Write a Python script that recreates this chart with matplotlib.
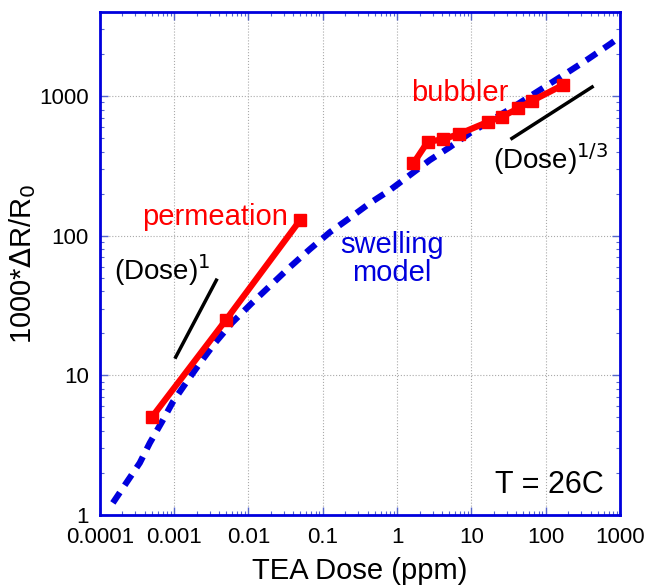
import numpy as np
import matplotlib
matplotlib.use("Agg")
from matplotlib import pyplot as plt
from matplotlib.ticker import LogLocator, FixedLocator, FixedFormatter, NullFormatter

plt.rcParams['font.family'] = ['Liberation Sans', 'DejaVu Sans']

# permeation data
perm_dose = [0.0005, 0.005, 0.05]
perm_resp = [5, 25, 130]

# bubbler data
bub_dose = [1.65, 2.58, 4.1, 6.8, 16.8, 25.5, 42.7, 64.6, 169]
bub_resp = [329, 470, 489, 534, 654, 710, 815, 920, 1197]

# swelling model curve
model_dose = [0.00015, 0.000231, 0.000345, 0.000471, 0.000683, 0.00096, 0.00144,
              0.00222, 0.00353, 0.00598, 0.0111, 0.0361, 0.067, 0.125, 0.218,
              0.43, 0.80, 1.49, 2.76, 5.14, 9.55, 33, 65, 199, 370, 731, 950]
model_resp = [1.22, 1.72, 2.36, 3.28, 4.63, 6.44, 8.81,
              12.2, 17.0, 23.7, 32.9, 59.6, 80, 106, 131,
              171, 212, 272, 348, 431, 543, 806, 1015, 1483, 1837, 2353, 2600]

# slope guide lines
slope1_dose = [0.00105, 0.0037]
slope1_resp = [13.5, 48]
slope3_dose = [35, 420]
slope3_resp = [497, 1160]

xticks = [0.0001, 0.001, 0.01, 0.1, 1, 10, 100, 1000]
xticklabels = ['0.0001', '0.001', '0.01', '0.1', '1', '10', '100', '1000']
yticks = [1, 10, 100, 1000]
yticklabels = ['1', '10', '100', '1000']

fig = plt.figure(figsize=(6.48, 5.87), dpi=100)
ax = fig.add_axes([0.154, 0.1227, 0.803, 0.857])

ax.set_xscale('log')
ax.set_yscale('log')
ax.set_xlim(0.0001, 1000)
ax.set_ylim(1, 4000)

ax.plot(model_dose, model_resp, color='#0000dd', lw=4.5, ls=(0, (2.0, 1.4)),
        dash_capstyle='butt', zorder=3)
ax.plot(perm_dose, perm_resp, color='#ff0000', lw=4.5, marker='s', ms=9, zorder=4)
ax.plot(bub_dose, bub_resp, color='#ff0000', lw=4.5, marker='s', ms=9, zorder=4)
ax.plot(slope1_dose, slope1_resp, color='black', lw=2.5, zorder=4)
ax.plot(slope3_dose, slope3_resp, color='black', lw=2.5, zorder=4)

ax.text(0.00353, 136, 'permeation', color='#ff0000', fontsize=21, ha='center', va='center')
ax.text(7.0, 1050, 'bubbler', color='#ff0000', fontsize=21, ha='center', va='center')
ax.text(0.85, 68, 'swelling\nmodel', color='#0000dd', fontsize=21, ha='center', va='center',
        linespacing=1.0)
ax.text(0.00068, 57, r'(Dose)$^{1}$', color='black', fontsize=20, ha='center', va='center')
ax.text(117, 355, r'(Dose)$^{1/3}$', color='black', fontsize=20, ha='center', va='center')
ax.text(600, 1.65, 'T = 26C', color='black', fontsize=22, ha='right', va='center')

ax.xaxis.set_major_locator(FixedLocator(xticks))
ax.xaxis.set_major_formatter(FixedFormatter(xticklabels))
ax.yaxis.set_major_locator(FixedLocator(yticks))
ax.yaxis.set_major_formatter(FixedFormatter(yticklabels))
ax.xaxis.set_minor_locator(LogLocator(base=10, subs=np.arange(2, 10), numticks=20))
ax.yaxis.set_minor_locator(LogLocator(base=10, subs=np.arange(2, 10), numticks=20))
ax.xaxis.set_minor_formatter(NullFormatter())
ax.yaxis.set_minor_formatter(NullFormatter())

ax.tick_params(which='both', direction='in', top=True, right=True, colors='#5566cc',
               labelcolor='black', labelsize=16)
ax.tick_params(which='major', length=6, width=1)
ax.tick_params(which='minor', length=3, width=0.8)
ax.tick_params(axis='x', which='major', pad=9)
ax.tick_params(axis='y', which='major', pad=8)

ax.grid(True, which='major', color='#aaaaaa', ls=':', lw=0.8)

for s in ax.spines.values():
    s.set_color('#0000dd')
    s.set_linewidth(2)

ax.set_xlabel('TEA Dose (ppm)', fontsize=21, labelpad=6)
ax.set_ylabel(r'1000*$\Delta$R/R$_0$', fontsize=21, labelpad=1)

fig.savefig('out.png', dpi=100)
